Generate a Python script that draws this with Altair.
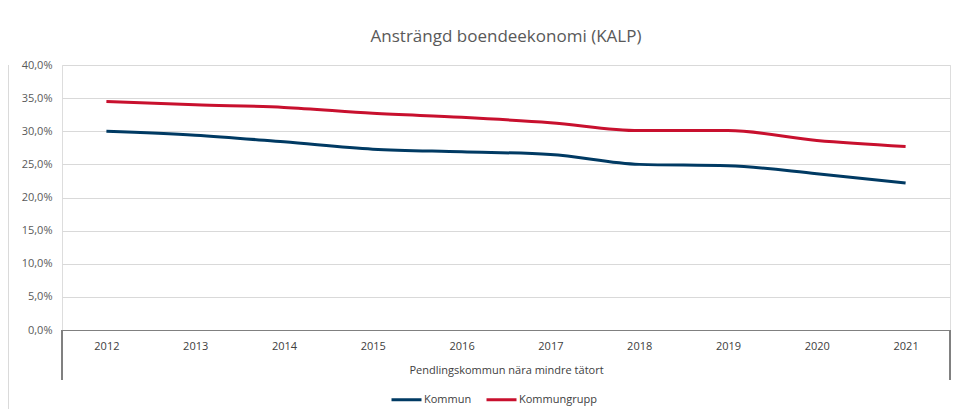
import altair as alt
import pandas as pd

years = ["2012", "2013", "2014", "2015", "2016", "2017", "2018", "2019", "2020", "2021"]
kommun = [30.0, 29.4, 28.4, 27.3, 26.9, 26.5, 25.0, 24.8, 23.6, 22.2]
kommungrupp = [34.5, 34.0, 33.6, 32.7, 32.1, 31.3, 30.1, 30.1, 28.6, 27.7]
series = ["Kommun", "Kommungrupp"]
colors = ["#003A63", "#C8102E"]

rows = []
for name, vals in zip(series, [kommun, kommungrupp]):
    for y, v in zip(years, vals):
        rows.append({"year": y, "value": v / 100.0, "series": name})
df = pd.DataFrame(rows)

W, H = 888, 265
FONT = "Open Sans"
GRAY = "#595959"

base = alt.Chart(df)

lines = base.mark_line(strokeWidth=3, interpolate="monotone").encode(
    x=alt.X("year:O", sort=years, scale=alt.Scale(paddingOuter=0.5, paddingInner=0),
            axis=alt.Axis(title="Pendlingskommun nära mindre tätort", labelAngle=0,
                          labelPadding=10, tickSize=0, ticks=False, domainColor="#808080",
                          domainWidth=1, labelColor="#404040", labelFontSize=11, labelFont=FONT,
                          titleFont=FONT, titleFontSize=11, titleFontWeight="normal",
                          titleColor="#404040", titlePadding=13, grid=False)),
    y=alt.Y("value:Q", scale=alt.Scale(domain=[0, 0.4], nice=False),
            axis=alt.Axis(title=None, values=[0, 0.05, 0.1, 0.15, 0.2, 0.25, 0.3, 0.35, 0.4],
                          labelExpr="replace(format(datum.value, '.1%'), '.', ',')",
                          domain=False, ticks=False, labelPadding=10, labelColor=GRAY,
                          labelFontSize=11, labelFont=FONT, gridColor="#D9D9D9",
                          gridWidth=1)),
    color=alt.Color("series:N", scale=alt.Scale(domain=series, range=colors),
                    legend=alt.Legend(title=None, orient="none", direction="horizontal",
                                      legendX=328, legendY=318, symbolType="stroke",
                                      symbolSize=900, symbolStrokeWidth=3,
                                      labelFont=FONT, labelFontSize=11, labelColor="#404040",
                                      columnPadding=8, labelOffset=1)),
)

sep_left = alt.Chart(df).mark_rule(color="#808080", strokeWidth=1).encode(
    x=alt.value(0), y=alt.value(H), y2=alt.value(H + 50))
sep_right = alt.Chart(df).mark_rule(color="#808080", strokeWidth=1).encode(
    x=alt.value(W), y=alt.value(H), y2=alt.value(H + 50))
border = alt.Chart(df).mark_rule(color="#D9D9D9", strokeWidth=1).encode(
    x=alt.value(-54), y=alt.value(0), y2=alt.value(H + 80))

chart = alt.layer(border, sep_left, sep_right, lines).properties(
    width=W, height=H,
    title=alt.TitleParams("Ansträngd boendeekonomi (KALP)", font=FONT, fontSize=17,
                          fontWeight="normal", color=GRAY, anchor="middle", offset=13,
                          frame="group"),
    autosize=alt.AutoSizeParams(type="none"),
    padding={"left": 54, "top": 57, "right": 1, "bottom": 80},
).configure_view(stroke=None).configure(background="white")

chart.save("out.html", embed_options={"renderer": "svg", "actions": False})
